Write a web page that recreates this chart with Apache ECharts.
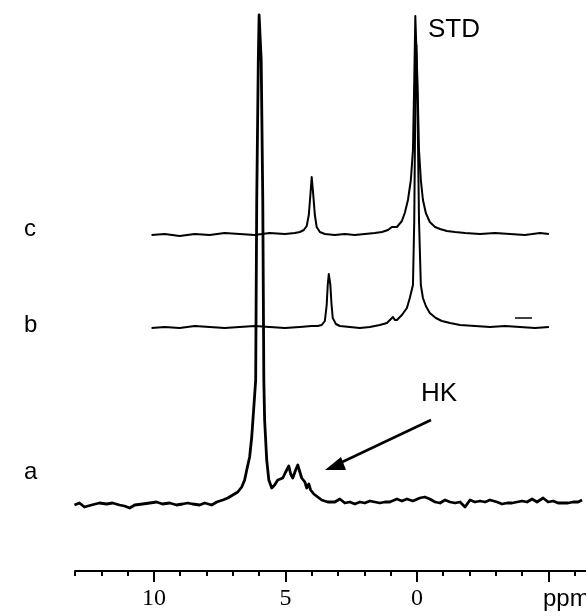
<!DOCTYPE html>
<html>
<head>
<meta charset="utf-8">
<script src="https://cdn.jsdelivr.net/npm/echarts@6/dist/echarts.min.js"></script>
<style>
  html, body { margin: 0; padding: 0; background: #fff; }
  #chart { width: 586px; height: 616px; }
</style>
</head>
<body>
<div id="chart"></div>
<script>
// spectra, [ppm, intensity above own baseline]
const traceA = [
  [13.02, -2], [12.83, 0], [12.64, -4], [12.37, -2], [12.07, 0], [11.80, -1], [11.57, 0], [11.31, -2],
  [11.12, -3], [10.92, -5], [10.73, -2], [10.43, -1], [10.16, 0], [9.90, 1], [9.67, -1], [9.40, 0],
  [9.14, -2], [8.91, -1], [8.72, 0], [8.53, -1], [8.26, -2], [8.07, 0], [7.80, -2], [7.61, 1],
  [7.38, 3], [7.19, 5], [7.00, 8], [6.81, 11], [6.66, 16], [6.55, 23], [6.47, 33], [6.36, 46],
  [6.28, 66], [6.20, 96], [6.13, 123], [6.09, 303], [6.03, 443], [6.00, 488], [5.96, 488], [5.92, 443],
  [5.86, 303], [5.82, 123], [5.79, 83], [5.71, 43], [5.63, 23], [5.52, 15], [5.41, 18], [5.29, 23],
  [5.10, 25], [4.99, 31], [4.87, 37], [4.80, 29], [4.72, 25], [4.61, 33], [4.53, 38], [4.45, 31],
  [4.38, 25], [4.26, 21], [4.19, 15], [4.11, 19], [4.04, 13], [3.92, 9], [3.77, 6], [3.62, 3],
  [3.39, 1], [3.12, 1], [2.93, 4], [2.74, 0], [2.55, 1], [2.36, -1], [2.17, 1], [1.98, 0],
  [1.79, 2], [1.60, 1], [1.41, 0], [1.22, 1], [1.03, 1], [0.76, 4], [0.57, 2], [0.38, 4],
  [0.15, 2], [-0.11, 5], [-0.30, 6], [-0.49, 4], [-0.69, 1], [-0.88, 0], [-1.07, 3], [-1.26, 1],
  [-1.45, 0], [-1.64, 1], [-1.83, -4], [-2.02, 3], [-2.21, 1], [-2.40, 2], [-2.59, 1], [-2.78, 3],
  [-3.05, 1], [-3.24, -1], [-3.43, 0], [-3.62, 0], [-3.81, 1], [-4.00, 2], [-4.19, 1], [-4.38, 4],
  [-4.57, 1], [-4.80, 5], [-4.99, 1], [-5.18, 2], [-5.37, 0], [-5.56, 0], [-5.75, 0], [-5.94, 1],
  [-6.13, 1], [-6.28, 3]
]

const traceB = [
  [10.09, -1], [9.59, 0], [9.02, -1], [8.45, 1], [7.88, 0], [7.31, -1], [6.74, 0], [6.17, 1],
  [5.60, 0], [5.02, -1], [4.45, 0], [4.00, 1], [3.77, 1], [3.62, 2], [3.50, 6], [3.43, 22],
  [3.39, 42], [3.35, 53], [3.29, 42], [3.25, 24], [3.20, 9], [3.08, 3], [2.93, 1], [2.55, 0],
  [2.17, -1], [1.79, 0], [1.41, 2], [1.14, 4], [0.91, 10], [0.84, 7], [0.76, 7], [0.57, 12],
  [0.38, 19], [0.27, 29], [0.15, 42], [0.10, 107], [0.06, 227], [0.02, 282], [-0.02, 227], [-0.08, 107],
  [-0.15, 42], [-0.23, 29], [-0.34, 21], [-0.49, 14], [-0.72, 9], [-0.95, 6], [-1.26, 4], [-1.64, 2],
  [-2.21, 1], [-2.78, 0], [-3.35, 1], [-3.92, 0], [-4.49, -1], [-5.02, 0]
]

const traceC = [
  [10.09, -1], [9.59, 0], [9.02, -2], [8.45, 0], [7.88, -1], [7.31, 1], [6.74, 0], [6.17, -1],
  [5.60, 1], [5.02, 0], [4.64, 1], [4.45, 2], [4.30, 4], [4.19, 8], [4.11, 19], [4.05, 39],
  [4.00, 57], [3.94, 39], [3.88, 19], [3.81, 7], [3.69, 2], [3.50, 0], [3.12, -1], [2.74, 0],
  [2.36, -1], [1.98, 0], [1.60, 1], [1.33, 2], [1.10, 4], [0.95, 7], [0.88, 5], [0.76, 7],
  [0.57, 13], [0.46, 21], [0.34, 34], [0.23, 54], [0.15, 84], [0.10, 154], [0.06, 218], [0.02, 218],
  [-0.02, 154], [-0.08, 84], [-0.15, 54], [-0.23, 34], [-0.34, 21], [-0.49, 12], [-0.69, 7], [-0.88, 5],
  [-1.14, 3], [-1.45, 2], [-1.83, 1], [-2.40, 0], [-2.97, 1], [-3.54, 0], [-4.11, -1], [-4.68, 1],
  [-5.02, 0]
]

// vertical stacking of the three spectra
const offsetA = 68
const offsetB = 244
const offsetC = 337

const minorTicks = [-6, -5, -4, -3, -2, -1, 0, 1, 2, 3, 4, 5, 6, 7, 8, 9, 10, 11, 12, 13]
const majorTicks = [-5, 0, 5, 10]
const tickLabels = [0, 5, 10]

const shift = (data, off) => data.map(p => [p[0], p[1] + off])

const chart = echarts.init(document.getElementById('chart'))

const lineSeries = (data, width) => ({
  type: 'line',
  xAxisIndex: 0,
  data,
  showSymbol: false,
  symbol: 'none',
  silent: true,
  clip: false,
  lineStyle: { color: '#000', width, join: 'round' }
})

const text = (str, x, y, size) => ({
  type: 'text',
  left: x,
  top: y,
  style: {
    text: str,
    font: `${size}px "Liberation Sans", Arial, sans-serif`,
    fill: '#000'
  }
})

chart.setOption({
  animation: false,
  grid: { left: 75, right: 0, top: 0, bottom: 45 },
  xAxis: [
    {
      type: 'value',
      min: -6.43,
      max: 13,
      inverse: true,
      position: 'bottom',
      axisLine: { show: true, lineStyle: { color: '#000', width: 2 } },
      axisTick: { show: true, customValues: minorTicks, length: 5, lineStyle: { color: '#000', width: 2 } },
      axisLabel: { show: false },
      splitLine: { show: false }
    },
    {
      type: 'value',
      min: -6.43,
      max: 13,
      inverse: true,
      position: 'bottom',
      axisLine: { show: false },
      axisTick: { show: true, customValues: majorTicks, length: 11, lineStyle: { color: '#000', width: 2 } },
      axisLabel: {
        show: true,
        customValues: tickLabels,
        margin: 16,
        color: '#000',
        fontSize: 24,
        fontFamily: '"Liberation Serif", "Times New Roman", serif'
      },
      splitLine: { show: false }
    }
  ],
  yAxis: {
    type: 'value',
    min: 0,
    max: 571,
    show: false
  },
  series: [
    lineSeries(shift(traceC, offsetC), 2),
    lineSeries(shift(traceB, offsetB), 2),
    lineSeries(shift(traceA, offsetA), 2.8)
  ],
  graphic: [
    text('c', 24, 217, 24),
    text('b', 24, 313, 24),
    text('a', 24, 460, 24),
    text('STD', 428, 17, 26),
    text('HK', 421, 381, 26),
    text('ppm', 543, 587, 24),
    // arrow to HK multiplets
    {
      type: 'line',
      shape: { x1: 431, y1: 420, x2: 338, y2: 464 },
      style: { stroke: '#000', lineWidth: 2.5 }
    },
    {
      type: 'polygon',
      shape: { points: [[325, 470], [341, 457], [346, 470]] },
      style: { fill: '#000' }
    },
    {
      type: 'line',
      shape: { x1: 515, y1: 318, x2: 532, y2: 318 },
      style: { stroke: '#000', lineWidth: 1.5 }
    }
  ]
})

window.addEventListener('resize', () => chart.resize())
</script>
</body>
</html>
